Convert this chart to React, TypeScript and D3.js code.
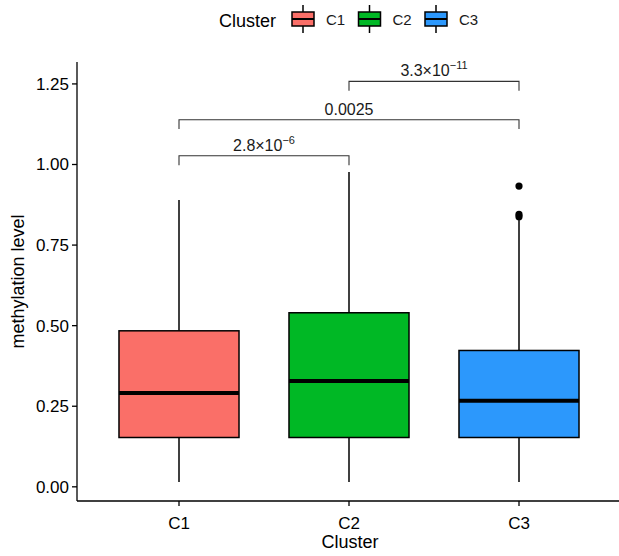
import React from "react";
import * as d3 from "d3";

// box statistics
const clusters = ["C1", "C2", "C3"];
const colors = ["#FA6F68", "#00B825", "#2C98FC"];
const lowerWhisker = [0.015, 0.015, 0.015];
const q1 = [0.153, 0.153, 0.153];
const median = [0.291, 0.328, 0.267];
const q3 = [0.484, 0.540, 0.423];
const upperWhisker = [0.89, 0.977, 0.835];
const outliers = [[], [], [0.838, 0.845, 0.933]];

const yTicks = [0, 0.25, 0.5, 0.75, 1.0, 1.25];

// pairwise comparisons: [from, to, bracket height, p mantissa, exponent]
const comparisons: [string, string, number, string, string | null][] = [
  ["C1", "C2", 1.027, "2.8", "\u22126"],
  ["C1", "C3", 1.139, "0.0025", null],
  ["C2", "C3", 1.258, "3.3", "\u221211"],
];

const W = 619;
const H = 556;
const panel = { left: 77, right: 621, top: 62, bottom: 501 };
const font = "'Liberation Sans', Arial, sans-serif";

export default function App() {
  const x = d3.scalePoint<string>().domain(clusters).range([panel.left, panel.right]).padding(0.6);
  const y = d3.scaleLinear().domain([-0.044, 1.318]).range([panel.bottom, panel.top]);
  const boxW = x.step() * 0.706;
  const tipLen = 0.029;

  return (
    <svg width={W} height={H} style={{ position: "absolute", left: 0, top: 0, fontFamily: font }}>
      <rect width={W} height={H} fill="#fff" />

      {/* legend */}
      <g>
        <text x={219} y={27} fontSize={18} fill="#000">Cluster</text>
        {clusters.map((c, i) => {
          const kx = 292 + i * 66.5;
          return (
            <g key={c}>
              <line x1={kx + 11} x2={kx + 11} y1={5} y2={33} stroke="#000" strokeWidth={1.5} />
              <rect x={kx} y={12} width={22} height={14} fill={colors[i]} stroke="#000" strokeWidth={1.5} />
              <line x1={kx} x2={kx + 22} y1={19} y2={19} stroke="#000" strokeWidth={2} />
              <text x={kx + 34} y={25} fontSize={15} fill="#1a1a1a">{c}</text>
            </g>
          );
        })}
      </g>

      {/* boxes */}
      {clusters.map((c, i) => {
        const cx = x(c)!;
        return (
          <g key={c}>
            <line x1={cx} x2={cx} y1={y(lowerWhisker[i])} y2={y(q1[i])} stroke="#000" strokeWidth={1.5} />
            <line x1={cx} x2={cx} y1={y(q3[i])} y2={y(upperWhisker[i])} stroke="#000" strokeWidth={1.5} />
            <rect
              x={cx - boxW / 2}
              y={y(q3[i])}
              width={boxW}
              height={y(q1[i]) - y(q3[i])}
              fill={colors[i]}
              stroke="#000"
              strokeWidth={1.5}
            />
            <line x1={cx - boxW / 2} x2={cx + boxW / 2} y1={y(median[i])} y2={y(median[i])} stroke="#000" strokeWidth={4} />
            {outliers[i].map((v, j) => (
              <circle key={j} cx={cx} cy={y(v)} r={3.6} fill="#000" />
            ))}
          </g>
        );
      })}

      {/* comparison brackets */}
      {comparisons.map(([a, b, h, m, e]) => {
        const x1 = x(a)!;
        const x2 = x(b)!;
        const path = d3.path();
        path.moveTo(x1, y(h - tipLen));
        path.lineTo(x1, y(h));
        path.lineTo(x2, y(h));
        path.lineTo(x2, y(h - tipLen));
        return (
          <g key={a + b}>
            <path d={path.toString()} fill="none" stroke="#333" strokeWidth={1.1} />
            <text x={(x1 + x2) / 2} y={y(h) - 5} fontSize={16} textAnchor="middle" fill="#1a1a1a">
              {e ? (
                <>
                  {m + "\u00d710"}
                  <tspan fontSize={11} dy={-7}>{e}</tspan>
                </>
              ) : (
                m
              )}
            </text>
          </g>
        );
      })}

      {/* y axis */}
      <line x1={panel.left} x2={panel.left} y1={panel.top} y2={panel.bottom} stroke="#000" strokeWidth={1.3} />
      {yTicks.map((t) => (
        <g key={t} transform={`translate(${panel.left},${y(t)})`}>
          <line x1={-5} x2={0} stroke="#000" strokeWidth={1.3} />
          <text x={-8} dy="0.35em" fontSize={17} textAnchor="end" fill="#000">{d3.format(".2f")(t)}</text>
        </g>
      ))}
      <text
        transform={`translate(24,${(panel.top + panel.bottom) / 2}) rotate(-90)`}
        fontSize={18}
        textAnchor="middle"
        fill="#000"
      >
        methylation level
      </text>

      {/* x axis */}
      <line x1={panel.left} x2={W} y1={panel.bottom} y2={panel.bottom} stroke="#000" strokeWidth={1.3} />
      {clusters.map((c) => (
        <g key={c} transform={`translate(${x(c)},${panel.bottom})`}>
          <line y1={0} y2={5} stroke="#000" strokeWidth={1.3} />
          <text y={22} fontSize={17} textAnchor="middle" dy="0.35em" fill="#000">{c}</text>
        </g>
      ))}
      <text x={(panel.left + W) / 2 + 2} y={548} fontSize={18} textAnchor="middle" fill="#000">Cluster</text>
    </svg>
  );
}
